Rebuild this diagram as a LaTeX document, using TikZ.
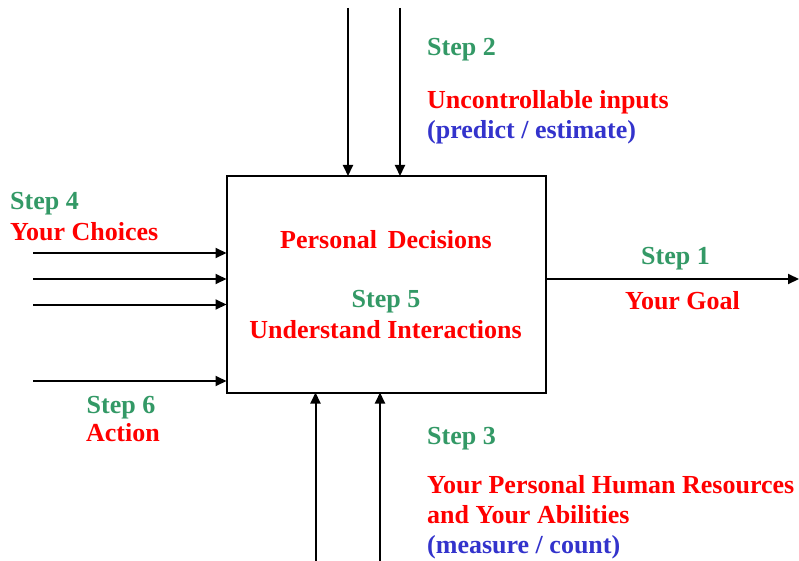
\documentclass[tikz,border=0pt]{standalone}
\usepackage{fontspec}
\setmainfont{Liberation Serif}
\usetikzlibrary{arrows.meta}
\definecolor{stepgreen}{RGB}{51,153,102}
\definecolor{keyred}{RGB}{255,0,0}
\definecolor{noteblue}{RGB}{51,51,204}
\begin{document}
\begin{tikzpicture}[x=1pt,y=-1pt,
  lbl/.style={inner sep=0pt,font=\fontsize{26}{31}\selectfont\bfseries},
  stepl/.style={lbl,text=stepgreen},
  redl/.style={lbl,text=keyred},
  bluel/.style={lbl,text=noteblue},
  flow/.style={line width=2pt,-{Triangle[length=11pt,width=10pt]}}]
\useasboundingbox (0,0) rectangle (799,561);
\fill[white] (0,0) rectangle (799,561);

% central process box
\draw[line width=2pt] (226.5,176) rectangle (546,392.5);
\node[redl,anchor=base] (pd) at (386,248) {Personal\, Decisions};
\node[stepl,anchor=base] (s5) at (386,307) {Step 5};
\node[redl,anchor=base] (ui) at (385.5,338) {Understand Interactions};

% endpoints of the connectors
\coordinate (t1) at (348,8);    \coordinate (t1e) at (348,176);
\coordinate (t2) at (400,8);    \coordinate (t2e) at (400,176);
\coordinate (b1) at (315.5,561); \coordinate (b1e) at (315.5,392.5);
\coordinate (b2) at (380,561);  \coordinate (b2e) at (380,392.5);
\coordinate (l1) at (33,253);   \coordinate (l1e) at (226.5,253);
\coordinate (l2) at (33,279);   \coordinate (l2e) at (226.5,279);
\coordinate (l3) at (33,304.5); \coordinate (l3e) at (226.5,304.5);
\coordinate (l4) at (33,381);   \coordinate (l4e) at (226.5,381);
\coordinate (r0) at (546,279);  \coordinate (r1) at (799,279);

\draw[flow] (t1) -- (t1e);
\draw[flow] (t2) -- (t2e);
\draw[flow] (b1) -- (b1e);
\draw[flow] (b2) -- (b2e);
\draw[flow] (l1) -- (l1e);
\draw[flow] (l2) -- (l2e);
\draw[flow] (l3) -- (l3e);
\draw[flow] (l4) -- (l4e);
\draw[flow] (r0) -- (r1);

% step 2: uncontrollable inputs
\node[stepl,anchor=base west] (s2) at (427,56) {Step 2};
\node[redl,anchor=base west] (unc) at (427,109) {Uncontrollable inputs};
\node[bluel,anchor=base west] (pre) at (427,139) {(predict / estimate)};

% step 4: choices
\node[stepl,anchor=base west] (s4) at (10,209) {Step 4};
\node[redl,anchor=base west] (ch) at (10,240) {Your Choices};

% step 1: goal
\node[stepl,anchor=base] (s1) at (675.5,264) {Step 1};
\node[redl,anchor=base] (goal) at (682.5,309) {Your Goal};

% step 6: action
\node[stepl,anchor=base] (s6) at (121,413) {Step 6};
\node[redl,anchor=base] (act) at (123,441) {Action};

% step 3: resources
\node[stepl,anchor=base west] (s3) at (427,444) {Step 3};
\node[redl,anchor=base west] (res) at (427,493) {Your Personal Human Resources};
\node[redl,anchor=base west] (abl) at (427,523) {and Your Abilities};
\node[bluel,anchor=base west] (mea) at (427,553) {(measure / count)};
\end{tikzpicture}
\end{document}
